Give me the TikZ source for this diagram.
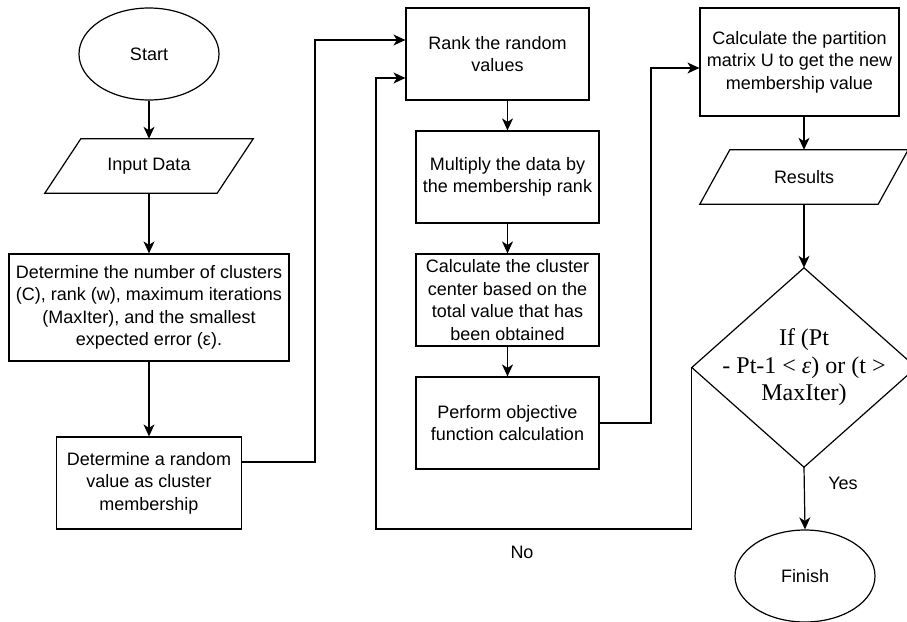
\documentclass[tikz,border=0pt]{standalone}
\usepackage{fontspec}
\setmainfont{Liberation Sans}
\newfontfamily\serifz{Liberation Serif}
\usetikzlibrary{arrows.meta,shapes.geometric,calc}
\begin{document}
\begin{tikzpicture}[x=1pt,y=-1pt,
  lbl/.style={inner sep=0pt, align=center, font=\fontsize{18}{22.5}\selectfont},
  box/.style={lbl, draw, rectangle, line width=1.2pt},
  term/.style={lbl, draw, ellipse, line width=1.2pt, minimum width=140pt, minimum height=92pt},
  plain/.style={lbl, rectangle},
  shp/.style={line width=1.2pt, line join=miter},
  arr/.style={line width=1.2pt, -{Stealth[length=12pt,width=11pt,inset=3.5pt]}}]
\useasboundingbox (0,0) rectangle (907,621);
% nodes
\node[term] (start) at (149,54) {Start};
\node[plain, minimum width=172pt, minimum height=54pt] (input) at (149,166) {Input Data};
\draw[shp] ([xshift=18pt]input.north west) -- ([xshift=18pt]input.north east) -- ([xshift=-18pt]input.south east) -- ([xshift=-18pt]input.south west) -- cycle;
\node[box, minimum width=280pt, minimum height=107pt] (determine) at (149,307.5) {Determine the number of clusters\\(C), rank (w), maximum iterations\\(MaxIter), and the smallest\\expected error (ε).};
\node[box, minimum width=185pt, minimum height=92pt] (random) at (149,483) {Determine a random\\value as cluster\\membership};
\node[box, minimum width=183pt, minimum height=92pt] (rank) at (497.5,54) {Rank the random\\values};
\node[box, minimum width=183pt, minimum height=92pt] (multiply) at (507.5,177) {Multiply the data by\\the membership rank};
\node[box, minimum width=183pt, minimum height=92pt] (center) at (507.5,300) {Calculate the cluster\\center based on the\\total value that has\\been obtained};
\node[box, minimum width=183pt, minimum height=92pt] (perform) at (507.5,423) {Perform objective\\function calculation};
\node[box, minimum width=199pt, minimum height=108pt] (partition) at (799.5,62) {Calculate the partition\\matrix U to get the new\\membership value};
\node[plain, minimum width=178pt, minimum height=54pt] (results) at (804,177) {Results};
\draw[shp] ([xshift=15pt]results.north west) -- ([xshift=15pt]results.north east) -- ([xshift=-15pt]results.south east) -- ([xshift=-15pt]results.south west) -- cycle;
\node[plain, minimum width=224pt, minimum height=199pt, font=\serifz\fontsize{24}{27.5}\selectfont] (dia) at (804,367.5) {If (Pt\\- Pt-1 < \textit{ε}) or (t >\\MaxIter)};
\draw[shp] (dia.north) -- (dia.east) -- (dia.south) -- (dia.west) -- cycle;
\node[term] (finish) at (805,576) {Finish};
% helper coordinates
\coordinate (c1) at (315,40);
\coordinate (c2) at (651,68);
\coordinate (c3) at (376,529);
% connectors
\draw[arr] (start) -- (input);
\draw[arr] (input) -- (determine);
\draw[arr] (determine) -- (random);
\draw[arr] ([yshift=21pt]random.east) -| (c1) -- ([yshift=14pt]rank.west);
\draw[arr] (multiply.north |- rank.south) -- (multiply.north);
\draw[arr] (multiply) -- (center);
\draw[arr] (center) -- (perform);
\draw[arr] (perform.east) -| (c2) -- ([yshift=-6pt]partition.west);
\draw[arr] (results.north |- partition.south) -- (results.north);
\draw[arr] (results.south) -- (dia.north);
\draw[arr] (dia.south) -- (finish.north);
\draw[arr] (dia.west) |- (c3) |- ([yshift=-24pt]rank.west);
\node[lbl] (yes) at (843,483) {Yes};
\node[lbl] (no) at (522,552) {No};
\end{tikzpicture}
\end{document}
